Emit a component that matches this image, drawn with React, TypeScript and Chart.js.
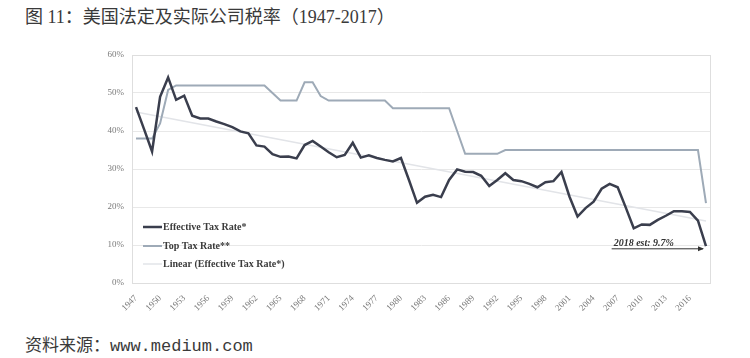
import React, { useEffect, useRef } from "react";
import { Chart, registerables } from "chart.js";

Chart.register(...registerables);

const years: string[] = [];
for (let y = 1947; y <= 2018; y++) years.push(String(y));

const effectiveRate = [
  46.3, 40.5, 34.6, 49.0, 54.1, 48.2, 49.3, 44.0, 43.3, 43.3,
  42.5, 41.8, 41.0, 39.9, 39.4, 36.2, 35.9, 33.9, 33.2, 33.3,
  32.8, 36.3, 37.4, 35.9, 34.4, 33.1, 33.7, 36.9, 33.0, 33.6,
  32.9, 32.4, 32.0, 32.9, 27.1, 21.1, 22.7, 23.2, 22.6, 27.1,
  29.9, 29.3, 29.2, 28.2, 25.5, 27.1, 28.9, 27.1, 26.8, 26.1,
  25.2, 26.5, 26.8, 29.2, 22.7, 17.5, 19.7, 21.4, 24.8, 26.1,
  25.2, 19.9, 14.4, 15.4, 15.3, 16.6, 17.7, 18.9, 18.9, 18.7,
  16.4, 9.7,
];

const topRate = [
  38, 38, 38, 42, 50.8, 52, 52, 52, 52, 52,
  52, 52, 52, 52, 52, 52, 52, 50, 48, 48,
  48, 52.8, 52.8, 49.2, 48, 48, 48, 48, 48, 48,
  48, 48, 46, 46, 46, 46, 46, 46, 46, 46,
  40, 34, 34, 34, 34, 34, 35, 35, 35, 35,
  35, 35, 35, 35, 35, 35, 35, 35, 35, 35,
  35, 35, 35, 35, 35, 35, 35, 35, 35, 35,
  35, 21,
];

// linear trend endpoints (1947, 2018)
const trendEnds = [45.0, 16.3];

const yTicks = [0, 10, 20, 30, 40, 50, 60];

const legendLabels = ["Effective Tax Rate*", "Top Tax Rate**", "Linear (Effective Tax Rate*)"];
const annotationText = "2018 est: 9.7%";

const EFF_COLOR = "#3a3e4d";
const TOP_COLOR = "#9eaab7";
const TREND_COLOR = "#e2e4e8";

export default function App() {
  const ref = useRef<HTMLCanvasElement>(null);

  useEffect(() => {
    if (!ref.current) return;
    const trendData: (number | null)[] = years.map(() => null);
    trendData[0] = trendEnds[0];
    trendData[years.length - 1] = trendEnds[1];

    const overlay = {
      id: "overlay",
      afterDatasetsDraw(chart: any) {
        const { ctx, chartArea } = chart;
        ctx.save();
        // plot border
        ctx.strokeStyle = "#dedede";
        ctx.lineWidth = 1;
        ctx.strokeRect(
          Math.round(chartArea.left) + 0.5,
          Math.round(chartArea.top) + 0.5,
          Math.round(chartArea.right - chartArea.left),
          Math.round(chartArea.bottom - chartArea.top)
        );
        // legend
        const items = [
          { label: legendLabels[0], color: EFF_COLOR, w: 2.5, dy: 56 },
          { label: legendLabels[1], color: TOP_COLOR, w: 2, dy: 37 },
          { label: legendLabels[2], color: TREND_COLOR, w: 1.5, dy: 19 },
        ];
        ctx.font = 'bold 10px "Liberation Serif", "DejaVu Serif", serif';
        ctx.textBaseline = "middle";
        ctx.textAlign = "left";
        for (const it of items) {
          const y = chartArea.bottom - it.dy;
          const x = chartArea.left + 11;
          ctx.strokeStyle = it.color;
          ctx.lineWidth = it.w;
          ctx.beginPath();
          ctx.moveTo(x, y);
          ctx.lineTo(x + 19, y);
          ctx.stroke();
          ctx.fillStyle = "#3b3b3b";
          ctx.fillText(it.label, x + 20, y);
        }
        // annotation
        const xs = chart.scales.x;
        const ys = chart.scales.y;
        const x0 = xs.getPixelForValue(59) + 2;
        const x1 = xs.getPixelForValue(71) - 3;
        const ay = ys.getPixelForValue(9);
        ctx.strokeStyle = "#333";
        ctx.fillStyle = "#333";
        ctx.lineWidth = 1;
        ctx.beginPath();
        ctx.moveTo(x0, ay);
        ctx.lineTo(x1, ay);
        ctx.stroke();
        ctx.beginPath();
        ctx.moveTo(x1 + 1, ay);
        ctx.lineTo(x1 - 5, ay - 2.5);
        ctx.lineTo(x1 - 5, ay + 2.5);
        ctx.closePath();
        ctx.fill();
        ctx.font = 'italic bold 10px "Liberation Serif", "DejaVu Serif", serif';
        ctx.textBaseline = "alphabetic";
        ctx.fillText(annotationText, x0 + 2, ay - 3);
        ctx.restore();
      },
    };

    const chart = new Chart(ref.current, {
      type: "line",
      data: {
        labels: years,
        datasets: [
          {
            label: legendLabels[0],
            data: effectiveRate,
            borderColor: EFF_COLOR,
            borderWidth: 2.5,
            pointRadius: 0,
            tension: 0,
          },
          {
            label: legendLabels[1],
            data: topRate,
            borderColor: TOP_COLOR,
            borderWidth: 2,
            pointRadius: 0,
            tension: 0,
          },
          {
            label: legendLabels[2],
            data: trendData,
            borderColor: TREND_COLOR,
            borderWidth: 1.5,
            pointRadius: 0,
            spanGaps: true,
          },
        ],
      },
      options: {
        responsive: false,
        animation: false,
        devicePixelRatio: 1,
        layout: { padding: { left: 92, right: 40, top: 15, bottom: 0 } },
        plugins: { legend: { display: false }, tooltip: { enabled: false } },
        scales: {
          x: {
            type: "category",
            offset: true,
            grid: { display: false },
            border: { display: false },
            afterFit: (s: any) => {
              s.height = 42;
            },
            ticks: {
              autoSkip: false,
              maxRotation: 45,
              minRotation: 45,
              padding: 2,
              color: "#7a7a7a",
              font: { family: '"Liberation Serif", "DejaVu Serif", serif', size: 9 },
              callback: (v: any, i: number) => ((i % 3) === 0 ? years[i] : ""),
            },
          },
          y: {
            min: 0,
            max: 60,
            afterFit: (s: any) => {
              s.width = 40;
            },
            afterBuildTicks: (s: any) => {
              s.ticks = yTicks.map((v) => ({ value: v }));
            },
            grid: { color: "#e8e8e8", drawTicks: false },
            border: { color: "#d6d6d6" },
            ticks: {
              padding: 8,
              color: "#7a7a7a",
              font: { family: '"Liberation Serif", "DejaVu Serif", serif', size: 9 },
              callback: (v: any) => v + "%",
            },
          },
        },
      },
      plugins: [overlay],
    } as any);
    return () => chart.destroy();
  }, []);

  return (
    <div
      style={{
        position: "fixed",
        left: 0,
        top: 0,
        width: 750,
        height: 358,
        background: "#fff",
        overflow: "hidden",
      }}
    >
      <div
        style={{
          position: "absolute",
          left: 25,
          top: 5,
          fontFamily: '"Liberation Serif", "Noto Sans CJK SC", serif',
          fontSize: 18,
          color: "#3a3a3a",
          whiteSpace: "nowrap",
          lineHeight: "24px",
        }}
      >
        图 11：美国法定及实际公司税率（1947-2017）
      </div>
      <canvas
        ref={ref}
        width={750}
        height={285}
        style={{ position: "absolute", left: 0, top: 40, width: 750, height: 285 }}
      />
      <div
        style={{
          position: "absolute",
          left: 25,
          top: 335,
          fontFamily: '"Liberation Mono", "Noto Sans CJK SC", monospace',
          fontSize: 17,
          color: "#3a3a3a",
          whiteSpace: "nowrap",
          lineHeight: "24px",
        }}
      >
        资料来源：www.medium.com
      </div>
    </div>
  );
}
